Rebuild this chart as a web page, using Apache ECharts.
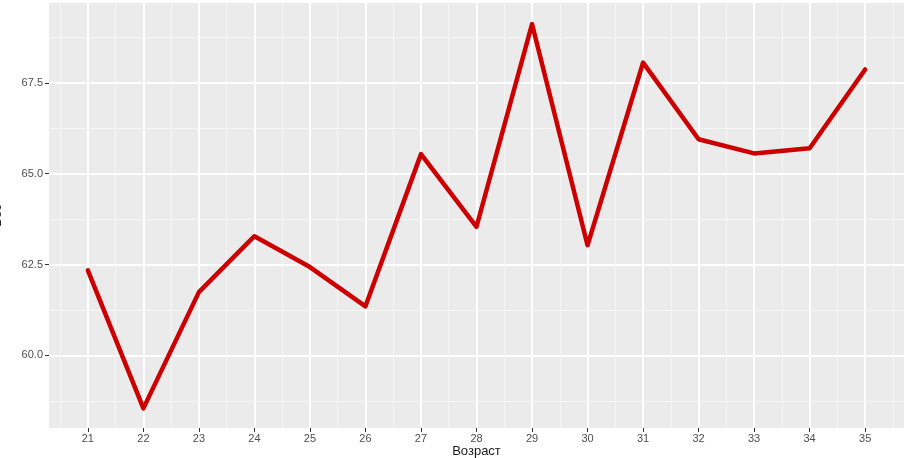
<!DOCTYPE html>
<html>
<head>
<meta charset="utf-8">
<script src="https://cdn.jsdelivr.net/npm/echarts@6/dist/echarts.min.js"></script>
<style>
  html, body { margin: 0; padding: 0; background: #fff; }
  #chart { width: 906px; height: 458px; }
</style>
</head>
<body>
<div id="chart"></div>
<script>
// data
const ages = [21, 22, 23, 24, 25, 26, 27, 28, 29, 30, 31, 32, 33, 34, 35];
const values = [62.34, 58.54, 61.74, 63.28, 62.43, 61.35, 65.54, 63.54, 69.12, 63.03, 68.06, 65.95, 65.56, 65.70, 67.87];

const xMajor = ages;
const xMinor = [20.5, 21.5, 22.5, 23.5, 24.5, 25.5, 26.5, 27.5, 28.5, 29.5, 30.5, 31.5, 32.5, 33.5, 34.5, 35.5];
const yMajor = [60, 62.5, 65, 67.5];
const yMinor = [58.75, 61.25, 63.75, 66.25, 68.75];

const chart = echarts.init(document.getElementById("chart"));

const font = "Liberation Sans, Arial, sans-serif";
const xRange = { min: 20.3, max: 35.7 };
const yRange = { min: 58.0, max: 69.7 };

// hidden axis used only to draw the thin minor grid lines
const minorAxis = (range, vals) => ({
  type: "value",
  min: range.min,
  max: range.max,
  axisLine: { show: false },
  axisTick: { show: false, customValues: vals },
  axisLabel: { show: false, customValues: vals },
  splitLine: { show: true, lineStyle: { color: "#f6f6f6", width: 1 } },
});

const option = {
  animation: false,
  textStyle: { fontFamily: font },
  grid: {
    left: 49,
    right: 2,
    top: 3,
    bottom: 30,
    containLabel: false,
    outerBoundsMode: "none",
    show: true,
    backgroundColor: "#ebebeb",
    borderWidth: 0,
  },
  xAxis: [
    {
      type: "value",
      min: xRange.min,
      max: xRange.max,
      name: "Возраст",
      nameLocation: "middle",
      nameGap: 17,
      nameMoveOverlap: false,
      nameTextStyle: { color: "#1a1a1a", fontSize: 13, fontFamily: font },
      axisLine: { show: false },
      axisTick: { show: true, length: 4, customValues: xMajor, lineStyle: { color: "#333" } },
      axisLabel: { customValues: xMajor, color: "#4d4d4d", fontSize: 11, margin: 5 },
      splitLine: { show: true, lineStyle: { color: "#ffffff", width: 2 } },
    },
    minorAxis(xRange, xMinor),
  ],
  yAxis: [
    {
      type: "value",
      min: yRange.min,
      max: yRange.max,
      name: "Вес",
      nameLocation: "middle",
      nameGap: 45,
      nameMoveOverlap: false,
      nameTextStyle: { color: "#1a1a1a", fontSize: 13, fontFamily: font },
      axisLine: { show: false },
      axisTick: { show: true, length: 4, customValues: yMajor, lineStyle: { color: "#333" } },
      axisLabel: {
        customValues: yMajor,
        color: "#4d4d4d",
        fontSize: 11,
        margin: 6,
        formatter: (v) => v.toFixed(1),
      },
      splitLine: { show: true, lineStyle: { color: "#ffffff", width: 2 } },
    },
    minorAxis(yRange, yMinor),
  ],
  series: [
    {
      type: "line",
      data: ages.map((a, i) => [a, values[i]]),
      showSymbol: false,
      symbol: "none",
      lineStyle: { color: "#cc0000", width: 4.5, join: "round", cap: "round" },
      z: 5,
    },
  ],
};

chart.setOption(option);
</script>
</body>
</html>
